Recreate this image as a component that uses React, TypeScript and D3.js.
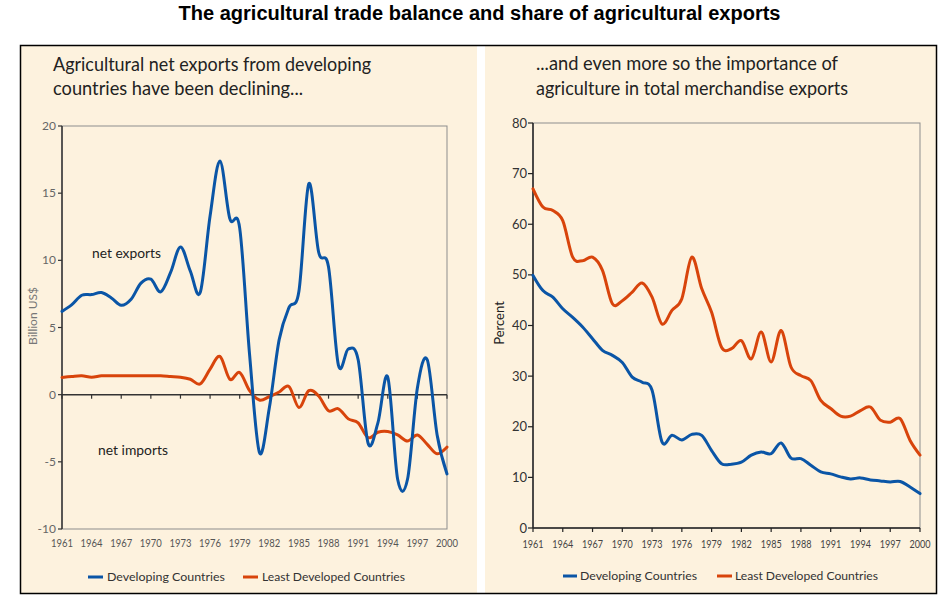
import React from 'react';
import * as d3 from 'd3';

const years = [1961,1962,1963,1964,1965,1966,1967,1968,1969,1970,1971,1972,1973,1974,1975,1976,1977,1978,1979,1980,1981,1982,1983,1984,1985,1986,1987,1988,1989,1990,1991,1992,1993,1994,1995,1996,1997,1998,1999,2000];

// Left: agricultural net exports, billion US$
const netDeveloping = [6.2,6.7,7.4,7.45,7.6,7.2,6.65,7.1,8.3,8.6,7.65,9.1,11.0,9.2,7.6,13.3,17.4,13.1,12.4,3.0,-4.3,-1.0,4.1,6.5,7.7,15.7,10.6,9.5,2.2,3.4,2.6,-3.6,-2.1,1.3,-6.3,-6.3,0.5,2.6,-3.0,-5.9];
const netLeast = [1.28,1.35,1.4,1.3,1.4,1.4,1.4,1.4,1.4,1.4,1.4,1.35,1.3,1.15,0.8,1.9,2.85,1.15,1.65,0.3,-0.4,-0.15,0.2,0.6,-0.95,0.3,-0.1,-1.2,-1.05,-1.8,-2.1,-3.2,-2.8,-2.75,-3.0,-3.45,-3.0,-3.7,-4.4,-3.9];

// Right: share of agriculture in total merchandise exports, percent
const shareDeveloping = [49.9,46.9,45.6,43.3,41.6,39.7,37.4,35.1,34.1,32.7,29.8,28.8,27.2,17.0,18.3,17.4,18.5,18.3,15.3,12.7,12.6,13.0,14.4,15.0,14.7,16.8,13.8,13.7,12.4,11.1,10.7,10.1,9.7,9.9,9.5,9.3,9.1,9.2,8.1,6.8];
const shareLeast = [67.0,63.4,62.7,60.7,53.5,52.8,53.5,50.9,44.3,44.9,46.6,48.4,45.6,40.3,43.0,45.3,53.5,47.3,42.6,35.7,35.4,37.0,33.4,38.7,32.8,39.0,31.8,30.1,29.1,25.2,23.6,22.1,22.1,23.2,23.9,21.3,20.9,21.6,17.3,14.4];

const xTickYears = [1961,1964,1967,1970,1973,1976,1979,1982,1985,1988,1991,1994,1997,2000];
const leftYTicks = [20,15,10,5,0,-5,-10];
const rightYTicks = [80,70,60,50,40,30,20,10,0];

const seriesNames = ['Developing Countries', 'Least Developed Countries'];
const mainTitle = 'The agricultural trade balance and share of agricultural exports';
const leftTitle = ['Agricultural net exports from developing', 'countries have been declining...'];
const rightTitle = ['...and even more so the importance of', 'agriculture in total merchandise exports'];

const BLUE = '#0A55A6';
const RED = '#D8440B';
const CREAM = '#FDF2DE';
const FONT = "Lato, 'Open Sans', sans-serif";

function Line({ data, x, y, color }: any) {
  const gen = d3.line<number>()
    .x((_, i) => x(years[i]))
    .y((d) => y(d))
    .curve(d3.curveCardinal.tension(0));
  return <path d={gen(data) || ''} fill="none" stroke={color} strokeWidth={3} strokeLinejoin="round" strokeLinecap="round" />;
}

export default function App() {
  const xL = d3.scaleLinear().domain([1961, 2000]).range([62, 447]);
  const yL = d3.scaleLinear().domain([-10, 20]).range([529, 126]);
  const xR = d3.scaleLinear().domain([1961, 2000]).range([533, 920]);
  const yR = d3.scaleLinear().domain([0, 80]).range([528, 123]);

  return (
    <svg width={951} height={604} style={{ position: 'absolute', left: 0, top: 0, background: '#fff' }} fontFamily={FONT}>
      {/* main title */}
      <text x={479.5} y={20} textAnchor="middle" fontFamily="'Liberation Sans', Arial, sans-serif" fontWeight="bold" fontSize={20} textLength={602} lengthAdjust="spacingAndGlyphs" fill="#000">{mainTitle}</text>

      {/* panels */}
      <rect x={21} y={46} width={456} height={547} fill={CREAM} />
      <rect x={485} y={46} width={451} height={547} fill={CREAM} />
      <rect x={20.5} y={45.5} width={916} height={548} fill="none" stroke="#000" strokeWidth={1.5} />

      {/* panel titles */}
      <text x={53} y={71} fontSize={19} fill="#222" textLength={318} lengthAdjust="spacingAndGlyphs">{leftTitle[0]}</text>
      <text x={53} y={95} fontSize={19} fill="#222" textLength={250} lengthAdjust="spacingAndGlyphs">{leftTitle[1]}</text>
      <text x={536} y={70} fontSize={19} fill="#222" textLength={302} lengthAdjust="spacingAndGlyphs">{rightTitle[0]}</text>
      <text x={536} y={95} fontSize={19} fill="#222" textLength={312} lengthAdjust="spacingAndGlyphs">{rightTitle[1]}</text>

      {/* LEFT CHART */}
      <rect x={62} y={126} width={385} height={403} fill="none" stroke="#8d8d8d" strokeWidth={1} />
      <line x1={62} x2={62} y1={126} y2={529} stroke="#333" strokeWidth={1.5} />
      <line x1={62} x2={447} y1={yL(0)} y2={yL(0)} stroke="#333" strokeWidth={1.5} />
      {leftYTicks.map((t) => (
        <g key={'ly' + t}>
          <line x1={58} x2={62} y1={yL(t)} y2={yL(t)} stroke="#333" strokeWidth={1.2} />
          <text x={56} y={yL(t) + 4} textAnchor="end" fontSize={12} fill="#666">{t}</text>
        </g>
      ))}
      {xTickYears.map((t) => (
        <g key={'lx' + t}>
          <line x1={xL(t)} x2={xL(t)} y1={yL(0)} y2={yL(0) + 4} stroke="#333" strokeWidth={1.2} />
          <text x={xL(t)} y={547} textAnchor="middle" fontSize={10.5} fill="#555" textLength={22} lengthAdjust="spacingAndGlyphs">{t}</text>
        </g>
      ))}
      <text transform="translate(37,316) rotate(-90)" textAnchor="middle" fontSize={12} fill="#777">Billion US$</text>
      <text x={92} y={258} fontSize={13} fill="#222" textLength={69} lengthAdjust="spacingAndGlyphs">net exports</text>
      <text x={98} y={455} fontSize={13} fill="#222" textLength={70} lengthAdjust="spacingAndGlyphs">net imports</text>
      <Line data={netLeast} x={xL} y={yL} color={RED} />
      <Line data={netDeveloping} x={xL} y={yL} color={BLUE} />

      {/* left legend */}
      <line x1={88} x2={103} y1={577} y2={577} stroke={BLUE} strokeWidth={3} />
      <text x={107} y={581} fontSize={12} fill="#333" textLength={118} lengthAdjust="spacingAndGlyphs">{seriesNames[0]}</text>
      <line x1={243} x2={258} y1={577} y2={577} stroke={RED} strokeWidth={3} />
      <text x={262} y={581} fontSize={12} fill="#333" textLength={143} lengthAdjust="spacingAndGlyphs">{seriesNames[1]}</text>

      {/* RIGHT CHART */}
      <rect x={533} y={123} width={387} height={405} fill="none" stroke="#8d8d8d" strokeWidth={1} />
      <line x1={533} x2={533} y1={123} y2={528} stroke="#222" strokeWidth={1.5} />
      <line x1={533} x2={920} y1={528} y2={528} stroke="#222" strokeWidth={1.5} />
      {rightYTicks.map((t) => (
        <g key={'ry' + t}>
          <line x1={528} x2={533} y1={yR(t)} y2={yR(t)} stroke="#222" strokeWidth={1.2} />
          <text x={527} y={yR(t) + 4.5} textAnchor="end" fontSize={13} fill="#333">{t}</text>
        </g>
      ))}
      {xTickYears.map((t) => (
        <g key={'rx' + t}>
          <line x1={xR(t)} x2={xR(t)} y1={528} y2={532} stroke="#222" strokeWidth={1.2} />
          <text x={xR(t)} y={548} textAnchor="middle" fontSize={10.5} fill="#444" textLength={21} lengthAdjust="spacingAndGlyphs">{t}</text>
        </g>
      ))}
      <text transform="translate(504,323) rotate(-90)" textAnchor="middle" fontSize={13} fill="#222">Percent</text>
      <Line data={shareDeveloping} x={xR} y={yR} color={BLUE} />
      <Line data={shareLeast} x={xR} y={yR} color={RED} />

      {/* right legend */}
      <line x1={563} x2={577} y1={576} y2={576} stroke={BLUE} strokeWidth={3} />
      <text x={580} y={580} fontSize={12} fill="#333" textLength={117} lengthAdjust="spacingAndGlyphs">{seriesNames[0]}</text>
      <line x1={717} x2={732} y1={576} y2={576} stroke={RED} strokeWidth={3} />
      <text x={735} y={580} fontSize={12} fill="#333" textLength={143} lengthAdjust="spacingAndGlyphs">{seriesNames[1]}</text>
    </svg>
  );
}
